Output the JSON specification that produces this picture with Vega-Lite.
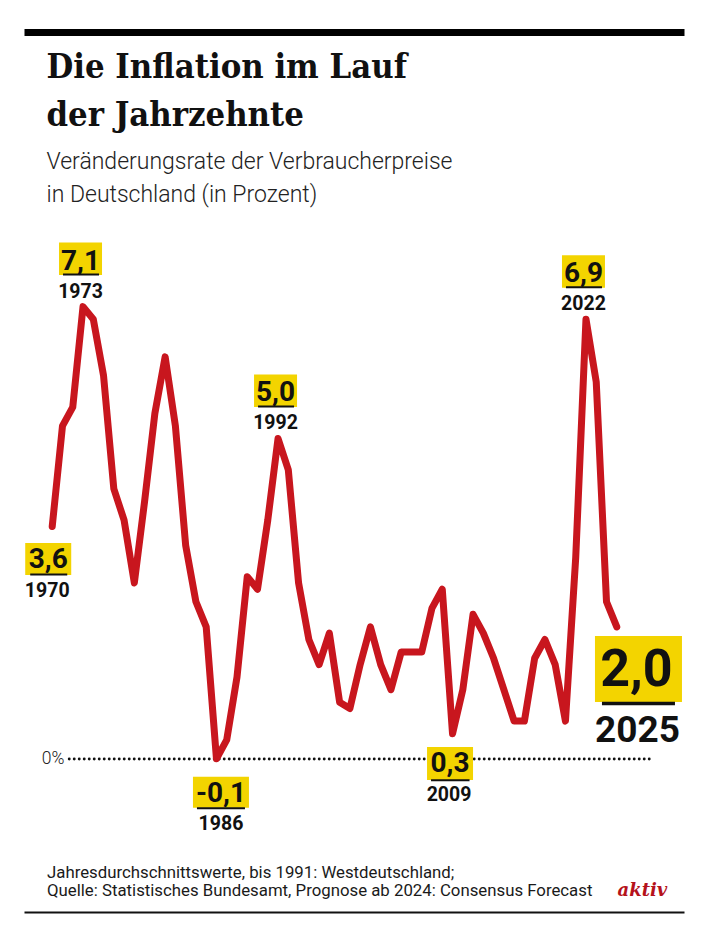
{
  "$schema": "https://vega.github.io/schema/vega-lite/v6.json",
  "width": 660,
  "height": 880,
  "autosize": {"type": "none"},
  "padding": {"left": 24, "top": 32, "right": 24, "bottom": 37},
  "background": "#ffffff",
  "title": {
    "text": ["Die Inflation im Lauf", "der Jahrzehnte"],
    "subtitle": ["Veränderungsrate der Verbraucherpreise", "in Deutschland (in Prozent)"],
    "anchor": "start", "frame": "group", "orient": "top", "offset": -175, "dx": 22.5,
    "font": "DejaVu Serif Condensed", "fontSize": 34.3, "fontWeight": "bold", "lineHeight": 48, "color": "#111111",
    "subtitleFont": "Roboto", "subtitleFontSize": 23, "subtitleFontWeight": 300, "subtitleLineHeight": 33,
    "subtitleColor": "#222222", "subtitlePadding": 18
  },
  "data": {
    "values": [
      {"year": 1970, "value": 3.6}, {"year": 1971, "value": 5.2}, {"year": 1972, "value": 5.5},
      {"year": 1973, "value": 7.1}, {"year": 1974, "value": 6.9}, {"year": 1975, "value": 6.0},
      {"year": 1976, "value": 4.2}, {"year": 1977, "value": 3.7}, {"year": 1978, "value": 2.7},
      {"year": 1979, "value": 4.0}, {"year": 1980, "value": 5.4}, {"year": 1981, "value": 6.3},
      {"year": 1982, "value": 5.2}, {"year": 1983, "value": 3.3}, {"year": 1984, "value": 2.4},
      {"year": 1985, "value": 2.0}, {"year": 1986, "value": -0.1}, {"year": 1987, "value": 0.2},
      {"year": 1988, "value": 1.2}, {"year": 1989, "value": 2.8}, {"year": 1990, "value": 2.6},
      {"year": 1991, "value": 3.7}, {"year": 1992, "value": 5.0}, {"year": 1993, "value": 4.5},
      {"year": 1994, "value": 2.7}, {"year": 1995, "value": 1.8}, {"year": 1996, "value": 1.4},
      {"year": 1997, "value": 1.9}, {"year": 1998, "value": 0.8}, {"year": 1999, "value": 0.7},
      {"year": 2000, "value": 1.4}, {"year": 2001, "value": 2.0}, {"year": 2002, "value": 1.4},
      {"year": 2003, "value": 1.0}, {"year": 2004, "value": 1.6}, {"year": 2005, "value": 1.6},
      {"year": 2006, "value": 1.6}, {"year": 2007, "value": 2.3}, {"year": 2008, "value": 2.6},
      {"year": 2009, "value": 0.3}, {"year": 2010, "value": 1.0}, {"year": 2011, "value": 2.2},
      {"year": 2012, "value": 1.9}, {"year": 2013, "value": 1.5}, {"year": 2014, "value": 1.0},
      {"year": 2015, "value": 0.5}, {"year": 2016, "value": 0.5}, {"year": 2017, "value": 1.5},
      {"year": 2018, "value": 1.8}, {"year": 2019, "value": 1.4}, {"year": 2020, "value": 0.5},
      {"year": 2021, "value": 3.1}, {"year": 2022, "value": 6.9}, {"year": 2023, "value": 5.9},
      {"year": 2024, "value": 2.4}, {"year": 2025, "value": 2.0}
    ]
  },
  "encoding": {
    "x": {"field": "year", "type": "quantitative", "scale": {"domain": [1967.25, 2031.55], "nice": false, "zero": false}, "axis": null},
    "y": {"field": "value", "type": "quantitative", "scale": {"domain": [-2.54, 11.473], "nice": false, "zero": false}, "axis": null}
  },
  "layer": [
    {
      "transform": [
        {"joinaggregate": [{"op": "min", "field": "year", "as": "firstYear"}, {"op": "max", "field": "year", "as": "lastYear"}]},
        {"filter": "datum.year == datum.firstYear"}
      ],
      "mark": {"type": "rule", "strokeDash": [0, 5], "strokeCap": "round", "strokeWidth": 2.9, "color": "#111111", "xOffset": 17, "x2Offset": 33, "yOffset": 6.5},
      "encoding": {
        "x": {"field": "year", "type": "quantitative", "scale": {"domain": [1967.25, 2031.55], "nice": false, "zero": false}, "axis": null},
        "x2": {"field": "lastYear"},
        "y": {"datum": 0, "type": "quantitative", "scale": {"domain": [-2.54, 11.473], "nice": false, "zero": false},
          "axis": {"orient": "left", "values": [0], "format": ".0%", "domain": false, "ticks": false, "tickSize": 0, "grid": false,
            "offset": -42, "labelPadding": 2, "labelOffset": 6.5, "labelFont": "Roboto", "labelFontWeight": 300, "labelFontSize": 17.5,
            "labelColor": "#222222", "title": null}}
      }
    },
    {
      "mark": {"type": "line", "color": "#c8161e", "strokeWidth": 7, "strokeJoin": "round", "strokeCap": "round"},
      "encoding": {
        "x": {"field": "year", "type": "quantitative", "scale": {"domain": [1967.25, 2031.55], "nice": false, "zero": false},
          "axis": {"orient": "bottom", "domain": true, "domainColor": "#111111", "domainWidth": 2, "ticks": false, "labels": false, "grid": false,
            "title": ["Jahresdurchschnittswerte, bis 1991: Westdeutschland;", "Quelle: Statistisches Bundesamt, Prognose ab 2024: Consensus Forecast"],
            "titleX": 22.5, "titleY": -35, "titleAlign": "left", "titleAnchor": null, "titleBaseline": "alphabetic", "titleAngle": 0,
            "titleFont": "Roboto", "titleFontWeight": "normal", "titleFontSize": 16.8, "titleLineHeight": 18.5, "titleColor": "#1a1a1a"}}
      }
    },
    {
      "transform": [{"filter": "datum.year == 1973 || datum.year == 1992 || datum.year == 2022"}],
      "mark": {"type": "rect", "color": "#f3d400", "xOffset": -24, "x2Offset": 19, "yOffset": -64, "y2Offset": -31.5},
      "encoding": {
        "x": {"field": "year", "type": "quantitative", "scale": {"domain": [1967.25, 2031.55], "nice": false, "zero": false},
          "axis": {"orient": "top", "domain": true, "domainColor": "#000000", "domainWidth": 7, "domainCap": "butt", "ticks": false, "labels": false, "grid": false,
            "title": "aktiv", "titleX": 593, "titleY": 863.5, "titleAlign": "left", "titleAnchor": null, "titleBaseline": "alphabetic", "titleAngle": 0,
            "titleFont": "DejaVu Serif", "titleFontSize": 18, "titleFontWeight": "bold", "titleFontStyle": "italic", "titleColor": "#b5121b"}},
        "x2": {"field": "year"},
        "y2": {"field": "value"}
      }
    },
    {
      "transform": [{"filter": "datum.year == 1973 || datum.year == 1992 || datum.year == 2022"}],
      "mark": {"type": "rule", "color": "#111111", "strokeWidth": 2, "xOffset": -20, "x2Offset": 16, "yOffset": -32},
      "encoding": {"x2": {"field": "year"}}
    },
    {
      "transform": [{"filter": "datum.year == 1973 || datum.year == 1992 || datum.year == 2022"}],
      "mark": {"type": "text", "font": "Roboto", "fontWeight": "bold", "fontSize": 28, "color": "#111111", "align": "center", "baseline": "alphabetic", "dx": -2.5, "dy": -37},
      "encoding": {"text": {"field": "value", "type": "quantitative", "format": ".1f"}}
    },
    {
      "transform": [{"filter": "datum.year == 1973 || datum.year == 1992 || datum.year == 2022"}],
      "mark": {"type": "text", "font": "Roboto", "fontWeight": "bold", "fontSize": 19.5, "color": "#111111", "align": "center", "baseline": "alphabetic", "dx": -2.5, "dy": -9},
      "encoding": {"text": {"field": "year", "type": "quantitative", "format": "d"}}
    },
    {
      "transform": [{"filter": "datum.year == 1970"}],
      "mark": {"type": "rect", "color": "#f3d400", "xOffset": -27, "x2Offset": 19, "yOffset": 16.5, "y2Offset": 48.5},
      "encoding": {"x2": {"field": "year"}, "y2": {"field": "value"}}
    },
    {
      "transform": [{"filter": "datum.year == 1970"}],
      "mark": {"type": "rule", "color": "#111111", "strokeWidth": 2, "xOffset": -22, "x2Offset": 15, "yOffset": 48},
      "encoding": {"x2": {"field": "year"}}
    },
    {
      "transform": [{"filter": "datum.year == 1970"}],
      "mark": {"type": "text", "font": "Roboto", "fontWeight": "bold", "fontSize": 28, "color": "#111111", "align": "center", "baseline": "alphabetic", "dx": -4, "dy": 42},
      "encoding": {"text": {"field": "value", "type": "quantitative", "format": ".1f"}}
    },
    {
      "transform": [{"filter": "datum.year == 1970"}],
      "mark": {"type": "text", "font": "Roboto", "fontWeight": "bold", "fontSize": 19.5, "color": "#111111", "align": "center", "baseline": "alphabetic", "dx": -5, "dy": 70.5},
      "encoding": {"text": {"field": "year", "type": "quantitative", "format": "d"}}
    },
    {
      "transform": [{"filter": "datum.year == 1986"}],
      "mark": {"type": "rect", "color": "#f3d400", "xOffset": -23.5, "x2Offset": 32.5, "yOffset": 18, "y2Offset": 49},
      "encoding": {"x2": {"field": "year"}, "y2": {"field": "value"}}
    },
    {
      "transform": [{"filter": "datum.year == 1986"}],
      "mark": {"type": "rule", "color": "#111111", "strokeWidth": 2, "xOffset": -19.5, "x2Offset": 28.5, "yOffset": 49.5},
      "encoding": {"x2": {"field": "year"}}
    },
    {
      "transform": [{"filter": "datum.year == 1986"}],
      "mark": {"type": "text", "font": "Roboto", "fontWeight": "bold", "fontSize": 28, "color": "#111111", "align": "center", "baseline": "alphabetic", "dx": 4.5, "dy": 43},
      "encoding": {"text": {"field": "value", "type": "quantitative", "format": ".1f"}}
    },
    {
      "transform": [{"filter": "datum.year == 1986"}],
      "mark": {"type": "text", "font": "Roboto", "fontWeight": "bold", "fontSize": 19.5, "color": "#111111", "align": "center", "baseline": "alphabetic", "dx": 4.5, "dy": 71},
      "encoding": {"text": {"field": "year", "type": "quantitative", "format": "d"}}
    },
    {
      "transform": [{"filter": "datum.year == 2009"}],
      "mark": {"type": "rect", "color": "#f3d400", "xOffset": -25.5, "x2Offset": 20.5, "yOffset": 13.3, "y2Offset": 46.3},
      "encoding": {"x2": {"field": "year"}, "y2": {"field": "value"}}
    },
    {
      "transform": [{"filter": "datum.year == 2009"}],
      "mark": {"type": "rule", "color": "#111111", "strokeWidth": 2, "xOffset": -21.5, "x2Offset": 17, "yOffset": 46.5},
      "encoding": {"x2": {"field": "year"}}
    },
    {
      "transform": [{"filter": "datum.year == 2009"}],
      "mark": {"type": "text", "font": "Roboto", "fontWeight": "bold", "fontSize": 28, "color": "#111111", "align": "center", "baseline": "alphabetic", "dx": -2.5, "dy": 38},
      "encoding": {"text": {"field": "value", "type": "quantitative", "format": ".1f"}}
    },
    {
      "transform": [{"filter": "datum.year == 2009"}],
      "mark": {"type": "text", "font": "Roboto", "fontWeight": "bold", "fontSize": 19.5, "color": "#111111", "align": "center", "baseline": "alphabetic", "dx": -3.5, "dy": 67},
      "encoding": {"text": {"field": "year", "type": "quantitative", "format": "d"}}
    },
    {
      "transform": [{"filter": "datum.year == 2025"}],
      "mark": {"type": "rect", "color": "#f3d400", "xOffset": -21.8, "x2Offset": 65.2, "yOffset": 9, "y2Offset": 75},
      "encoding": {"x2": {"field": "year"}, "y2": {"field": "value"}}
    },
    {
      "transform": [{"filter": "datum.year == 2025"}],
      "mark": {"type": "rule", "color": "#111111", "strokeWidth": 3.5, "xOffset": -14.8, "x2Offset": 58.2, "yOffset": 76.7},
      "encoding": {"x2": {"field": "year"}}
    },
    {
      "transform": [{"filter": "datum.year == 2025"}],
      "mark": {"type": "text", "font": "Roboto", "fontWeight": "bold", "fontSize": 52, "color": "#111111", "align": "center", "baseline": "alphabetic", "dx": 19.7, "dy": 59},
      "encoding": {"text": {"field": "value", "type": "quantitative", "format": ".1f"}}
    },
    {
      "transform": [{"filter": "datum.year == 2025"}],
      "mark": {"type": "text", "font": "Roboto", "fontWeight": "bold", "fontSize": 37, "color": "#111111", "align": "center", "baseline": "alphabetic", "dx": 20.7, "dy": 115},
      "encoding": {"text": {"field": "year", "type": "quantitative", "format": "d"}}
    }
  ],
  "resolve": {"axis": {"x": "independent", "y": "independent"}},
  "config": {
    "view": {"stroke": null},
    "locale": {"number": {"decimal": ",", "thousands": ".", "grouping": [3], "currency": ["", " €"], "minus": "-"}},
    "axis": {"grid": false}
  }
}
